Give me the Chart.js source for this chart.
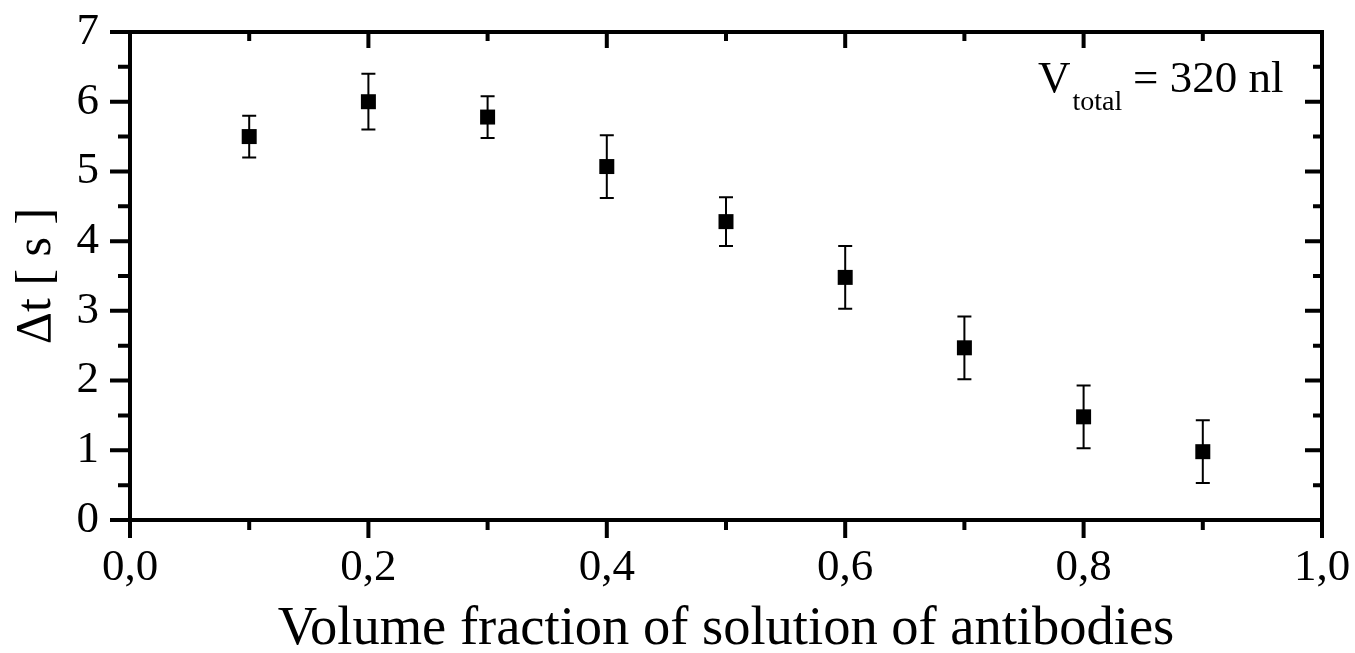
<!DOCTYPE html>
<html>
<head>
<meta charset="utf-8">
<script src="https://cdn.jsdelivr.net/npm/chart.js@4/dist/chart.umd.min.js"></script>
<style>
  html, body { margin: 0; padding: 0; background: #fff; }
  canvas { display: block; }
</style>
</head>
<body>
<canvas id="deltaChart" width="1355" height="653"></canvas>
<script>
// data
var fractions = [0.1, 0.2, 0.3, 0.4, 0.5, 0.6, 0.7, 0.8, 0.9];
var deltaT = [5.5, 6.0, 5.78, 5.07, 4.28, 3.48, 2.47, 1.48, 0.98];
var deltaTErr = [0.3, 0.4, 0.3, 0.45, 0.35, 0.45, 0.45, 0.45, 0.45];
var xTickLabels = ["0,0", "0,2", "0,4", "0,6", "0,8", "1,0"];
var yTickLabels = ["0", "1", "2", "3", "4", "5", "6", "7"];

var serif = "'Liberation Serif', 'Times New Roman', serif";

var points = fractions.map(function (f, i) { return { x: f, y: deltaT[i] }; });

// error bars under the markers
var errorBars = {
  id: 'errorBars',
  beforeDatasetsDraw: function (chart) {
    var ctx = chart.ctx, xs = chart.scales.x, ys = chart.scales.y;
    ctx.save();
    ctx.strokeStyle = '#000';
    ctx.lineWidth = 2;
    for (var i = 0; i < fractions.length; i++) {
      var px = xs.getPixelForValue(fractions[i]);
      var top = ys.getPixelForValue(deltaT[i] + deltaTErr[i]);
      var bot = ys.getPixelForValue(deltaT[i] - deltaTErr[i]);
      ctx.beginPath();
      ctx.moveTo(px, top); ctx.lineTo(px, bot);
      ctx.moveTo(px - 7, top); ctx.lineTo(px + 7, top);
      ctx.moveTo(px - 7, bot); ctx.lineTo(px + 7, bot);
      ctx.stroke();
    }
    ctx.restore();
  }
};

// box frame with major/minor ticks, out on left/bottom, in on top/right
var frame = {
  id: 'frame',
  afterDraw: function (chart) {
    var ctx = chart.ctx, a = chart.chartArea, xs = chart.scales.x, ys = chart.scales.y;
    ctx.save();
    ctx.strokeStyle = '#000';
    ctx.lineWidth = 4;
    ctx.lineCap = 'square';
    ctx.strokeRect(a.left, a.top, a.right - a.left, a.bottom - a.top);
    ctx.lineCap = 'butt';
    ctx.beginPath();
    for (var k = 0; k <= 10; k++) {
      var px = xs.getPixelForValue(k / 10);
      var major = k % 2 === 0;
      ctx.moveTo(px, a.bottom); ctx.lineTo(px, a.bottom + (major ? 18 : 10));
      ctx.moveTo(px, a.top); ctx.lineTo(px, a.top + (major ? 16 : 9));
    }
    for (var j = 0; j <= 14; j++) {
      var py = ys.getPixelForValue(j / 2);
      var maj = j % 2 === 0;
      ctx.moveTo(a.left, py); ctx.lineTo(a.left - (maj ? 20 : 12), py);
      ctx.moveTo(a.right, py); ctx.lineTo(a.right - (maj ? 17 : 9), py);
    }
    ctx.stroke();

    // V_total annotation
    ctx.fillStyle = '#000';
    ctx.textBaseline = 'alphabetic';
    ctx.textAlign = 'left';
    var x0 = a.right - 284, base = a.top + 60;
    ctx.font = '45px ' + serif;
    ctx.fillText('V', x0, base);
    var vw = ctx.measureText('V').width;
    ctx.font = '28px ' + serif;
    ctx.fillText('total', x0 + vw + 2, base + 18);
    ctx.font = '45px ' + serif;
    ctx.fillText('= 320 nl', x0 + 95, base);
    ctx.restore();
  }
};

var ctx = document.getElementById('deltaChart').getContext('2d');
var chart = new Chart(ctx, {
  type: 'scatter',
  data: {
    datasets: [{
      label: 'Δt',
      data: points,
      pointStyle: 'rect',
      pointRadius: 10.6,
      pointHoverRadius: 10.6,
      backgroundColor: '#000',
      borderColor: '#000',
      borderWidth: 0
    }]
  },
  options: {
    responsive: false,
    animation: false,
    layout: { padding: { left: 0, right: 33, top: 32, bottom: 0 } },
    plugins: {
      legend: { display: false },
      tooltip: { enabled: false }
    },
    scales: {
      x: {
        type: 'linear',
        min: 0,
        max: 1,
        grid: { display: false, drawTicks: false },
        border: { display: false },
        ticks: {
          stepSize: 0.2,
          padding: 21,
          color: '#000',
          font: { family: serif, size: 45 },
          maxRotation: 0,
          callback: function (v, i) { return xTickLabels[i]; }
        },
        title: {
          display: true,
          text: 'Volume fraction of solution of antibodies',
          color: '#000',
          font: { family: serif, size: 54.5, lineHeight: 0.85 },
          padding: 0
        },
        afterFit: function (s) {
          s.height = 133;
          s.paddingLeft = 0;
          s.paddingRight = 0;
        }
      },
      y: {
        min: 0,
        max: 7,
        grid: { display: false, drawTicks: false },
        border: { display: false },
        ticks: {
          stepSize: 1,
          padding: 31,
          color: '#000',
          font: { family: serif, size: 45 },
          callback: function (v, i) { return yTickLabels[i]; }
        },
        title: {
          display: true,
          text: 'Δt [ s ]',
          color: '#000',
          font: { family: serif, size: 50, lineHeight: 1 },
          padding: { top: 12, bottom: 0 }
        },
        afterFit: function (s) {
          s.width = 130;
          s.paddingTop = 0;
          s.paddingBottom = 0;
        }
      }
    }
  },
  plugins: [errorBars, frame]
});
</script>
</body>
</html>
